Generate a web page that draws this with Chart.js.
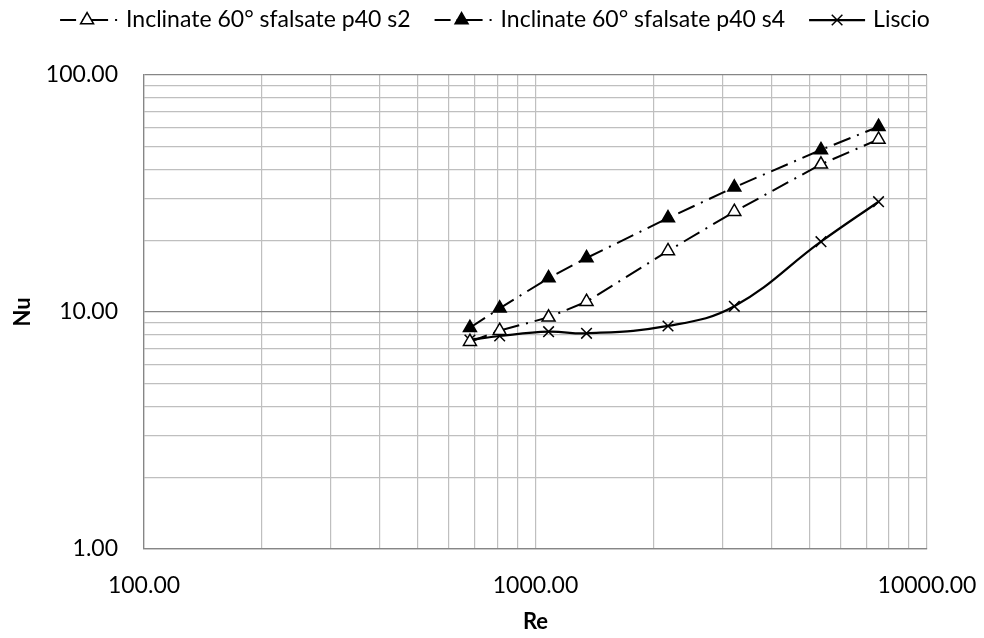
<!DOCTYPE html>
<html><head><meta charset="utf-8">
<script src="https://cdn.jsdelivr.net/npm/chart.js@4/dist/chart.umd.min.js"></script>
<style>html,body{margin:0;padding:0;background:#fff}#wrap{width:984px;height:638px}</style>
</head><body><div id="wrap"><canvas id="c" width="984" height="638"></canvas></div>
<script>
const reValues = [680, 810, 1080, 1350, 2180, 3220, 5360, 7520];
const nuS2 = [7.49, 8.34, 9.50, 11.05, 18.1, 26.5, 42.0, 53.5];
const nuS4 = [8.58, 10.36, 13.9, 16.9, 24.9, 33.6, 48.3, 60.5];
const nuLiscio = [7.62, 7.92, 8.26, 8.13, 8.73, 10.57, 19.8, 29.2];
const seriesNames = ['Inclinate 60° sfalsate p40 s2', 'Inclinate 60° sfalsate p40 s4', 'Liscio'];
const xTickValues = [100,200,300,400,500,600,700,800,900,1000,2000,3000,4000,5000,6000,7000,8000,9000,10000];
const yTickValues = [1,2,3,4,5,6,7,8,9,10,20,30,40,50,60,70,80,90,100];
const xTitle = 'Re';
const yTitle = 'Nu';

const FONT = "Lato, 'Open Sans', sans-serif";
const FS = 23;
const isDecade = v => Math.abs(Math.log10(v) - Math.round(Math.log10(v))) < 1e-9;
const pts = ys => reValues.map((x, i) => ({x, y: ys[i]}));
const DASH = [18, 7, 2, 7];
const LEGEND_DASH = [16, 6, 26, 7, 2, 40];

const legendPlugin = {
  id: 'customLegend',
  afterDraw(chart) {
    const ctx = chart.ctx;
    ctx.save();
    ctx.font = FS + 'px ' + FONT;
    const gapSym = 8, gapItem = 24;
    const items = chart.data.datasets.map(ds => ({ds, sw: ds.borderDash ? 58 : 56, w: ctx.measureText(ds.label).width}));
    const total = items.reduce((s, it) => s + it.sw + gapSym + it.w, 0) + gapItem * (items.length - 1);
    let x = 495 - total / 2;
    const y = 20;
    items.forEach(it => {
      const ds = it.ds;
      ctx.strokeStyle = ds.borderColor;
      ctx.lineWidth = ds.borderWidth;
      ctx.lineCap = 'butt';
      ctx.setLineDash(ds.borderDash ? LEGEND_DASH : []);
      ctx.beginPath(); ctx.moveTo(x, y); ctx.lineTo(x + it.sw, y); ctx.stroke();
      ctx.setLineDash([]);
      ctx.fillStyle = ds.pointBackgroundColor;
      ctx.strokeStyle = ds.pointBorderColor;
      ctx.lineWidth = ds.pointBorderWidth;
      Chart.helpers.drawPoint(ctx, {pointStyle: ds.pointStyle, radius: ds.pointRadius, rotation: 0, borderWidth: ds.pointBorderWidth}, x + (ds.borderDash ? 27 : it.sw / 2), y);
      ctx.fillStyle = '#000';
      ctx.textBaseline = 'middle';
      ctx.textAlign = 'left';
      ctx.fillText(ds.label, x + it.sw + gapSym, y);
      x += it.sw + gapSym + it.w + gapItem;
    });
    ctx.restore();
  }
};

new Chart(document.getElementById('c'), {
  type: 'line',
  data: {
    datasets: [
      {label: seriesNames[0], data: pts(nuS2), borderColor: '#000', borderWidth: 2, borderDash: DASH,
       pointStyle: 'triangle', pointRadius: 7.5, pointBackgroundColor: '#fff', pointBorderColor: '#000', pointBorderWidth: 1.5, tension: 0},
      {label: seriesNames[1], data: pts(nuS4), borderColor: '#000', borderWidth: 2, borderDash: DASH,
       pointStyle: 'triangle', pointRadius: 7.5, pointBackgroundColor: '#000', pointBorderColor: '#000', pointBorderWidth: 1.5, tension: 0},
      {label: seriesNames[2], data: pts(nuLiscio), borderColor: '#000', borderWidth: 2.25,
       pointStyle: 'crossRot', pointRadius: 7.5, pointBackgroundColor: '#000', pointBorderColor: '#000', pointBorderWidth: 1.5, tension: 0.4}
    ]
  },
  options: {
    responsive: false,
    animation: false,
    devicePixelRatio: 1,
    layout: {padding: {top: 75, right: 57, bottom: 0, left: 0}},
    plugins: {legend: {display: false}, tooltip: {enabled: false}},
    scales: {
      x: {
        type: 'logarithmic', min: 100, max: 10000,
        afterBuildTicks: s => { s.ticks = xTickValues.map(v => ({value: v})); },
        afterFit: s => { s.height = 89; s.paddingLeft = 0; s.paddingRight = 0; },
        ticks: {autoSkip: false, maxRotation: 0, padding: 23, color: '#000', font: {family: FONT, size: FS},
          callback: v => isDecade(v) ? Number(v).toFixed(2) : ''},
        grid: {color: '#bfbfbf', lineWidth: 1.2, drawTicks: false},
        border: {color: '#868686', width: 1.3},
        title: {display: true, text: xTitle, color: '#000', font: {family: FONT, size: 22, weight: 'bold'}, padding: {top: 0, bottom: 3}}
      },
      y: {
        type: 'logarithmic', min: 1, max: 100,
        afterBuildTicks: s => { s.ticks = yTickValues.map(v => ({value: v})); },
        afterFit: s => { s.width = 144; s.paddingTop = 0; s.paddingBottom = 0; },
        ticks: {autoSkip: false, padding: 26, color: '#000', font: {family: FONT, size: FS},
          callback: v => isDecade(v) ? Number(v).toFixed(2) : ''},
        grid: {color: ctx => (ctx.tick && isDecade(ctx.tick.value)) ? '#868686' : '#bfbfbf', lineWidth: 1.3, drawTicks: false},
        border: {color: '#868686', width: 1.3},
        title: {display: true, text: yTitle, color: '#000', font: {family: FONT, size: 22, weight: 'bold'}, padding: {top: 10, bottom: 0}}
      }
    }
  },
  plugins: [legendPlugin]
});
</script></body></html>
